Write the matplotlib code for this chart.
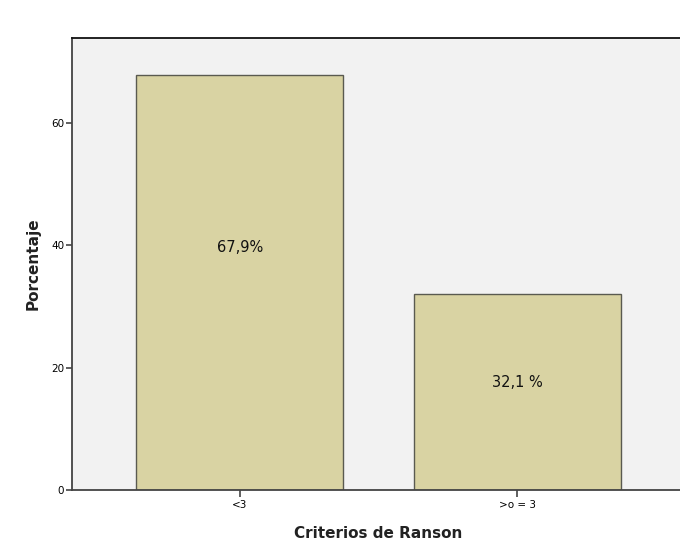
import matplotlib
matplotlib.use("Agg")
import matplotlib.pyplot as plt

categories = ["<3", ">o = 3"]
percentages = [67.9, 32.1]
bar_labels = ["67,9%", "32,1 %"]
yticks = [0, 20, 40, 60]

fig = plt.figure(figsize=(6.8, 5.47), dpi=100)
ax = fig.add_axes([72 / 680, 57 / 547, 613 / 680, 452 / 547])
ax.set_facecolor("#f2f2f2")

x = list(range(len(categories)))
ax.bar(x, percentages, width=0.747, color="#d9d3a3", edgecolor="#5a5a50",
       linewidth=1.0, zorder=2)

# labels sit a little above the bar midpoints
label_frac = [0.585, 0.545]
for xi, v, lab, f in zip(x, percentages, bar_labels, label_frac):
    ax.text(xi, v * f, lab, ha="center", va="center", fontsize=10.5,
            color="#111111", zorder=3)

ax.set_xlim(-0.606, 1.606)
ax.set_ylim(0, 73.9)
ax.set_xticks(x)
ax.set_xticklabels(categories, fontsize=7.5)
ax.set_yticks(yticks)
ax.set_yticklabels([str(t) for t in yticks], fontsize=7.5)

ax.tick_params(axis="y", length=4, width=1.2, color="#444444", pad=1.5)
ax.tick_params(axis="x", length=5, width=1.2, color="#444444", pad=2)

for side in ("left", "bottom"):
    ax.spines[side].set_color("#444444")
    ax.spines[side].set_linewidth(1.3)
ax.spines["top"].set_color("#111111")
ax.spines["top"].set_linewidth(1.3)
ax.spines["right"].set_visible(False)

ax.set_xlabel("Criterios de Ranson", fontsize=11, fontweight="bold",
              color="#222222", labelpad=12)
ax.set_ylabel("Porcentaje", fontsize=11, fontweight="bold",
              color="#222222", labelpad=8)

fig.savefig("out.png", dpi=100)
